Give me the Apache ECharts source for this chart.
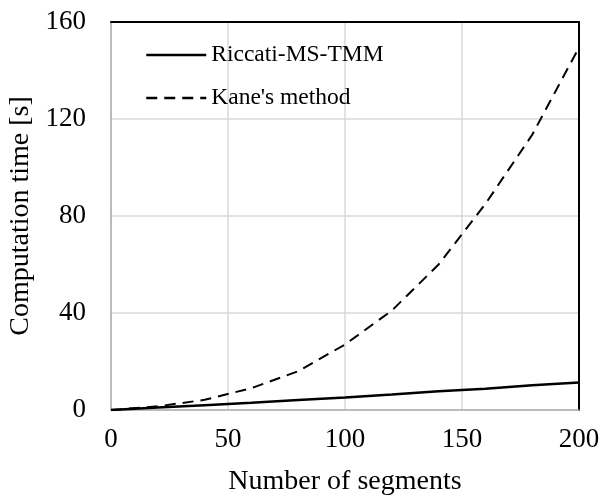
<!DOCTYPE html>
<html><head><meta charset="utf-8">
<script src="https://cdn.jsdelivr.net/npm/echarts@6/dist/echarts.min.js"></script>
<style>html,body{margin:0;padding:0;background:#fff}#c{width:602px;height:495px}</style>
</head><body><div id="c"></div>
<script>
const segments = [0, 20, 40, 60, 80, 100, 120, 140, 160, 180, 200];
const riccati = [0, 1.0, 2.0, 3.0, 4.1, 5.2, 6.4, 7.7, 8.8, 10.2, 11.3];
const kane = [0, 1.5, 4.2, 9.0, 16.0, 27.0, 41.0, 60.0, 85.0, 113.5, 149.5];
const xTicks = [0, 50, 100, 150, 200];
const yTicks = [0, 40, 80, 120, 160];
const font = '"Liberation Serif", "Times New Roman", serif';
const chart = echarts.init(document.getElementById('c'));
const frameAxis = { axisLine: { show: true, onZero: false, lineStyle: { color: '#000', width: 2 } }, axisTick: { show: false }, axisLabel: { show: false }, splitLine: { show: false } };
chart.setOption({
  animation: false,
  grid: { left: 111, right: 23, top: 22, bottom: 85, show: false, containLabel: false, outerBoundsMode: 'none' },
  legend: {
    show: true, orient: 'vertical', left: 140, top: 38, itemWidth: 60, itemHeight: 20, itemGap: 19,
    textStyle: { fontFamily: font, fontSize: 23.5, color: '#000' },
    itemStyle: { opacity: 0 },
    lineStyle: { width: 2.5 },
    data: ['Riccati-MS-TMM', "Kane's method"]
  },
  xAxis: [{
    type: 'value', min: 0, max: 200, interval: 50,
    name: 'Number of segments', nameLocation: 'middle', nameGap: 58,
    nameTextStyle: { fontFamily: font, fontSize: 28, color: '#000' },
    axisLine: { show: true, onZero: false, lineStyle: { color: '#a6a6a6', width: 1.5 } },
    axisTick: { show: false },
    axisLabel: { fontFamily: font, fontSize: 27, color: '#000', margin: 16 },
    splitLine: { show: true, showMinLine: false, showMaxLine: false, lineStyle: { color: '#d9d9d9', width: 1.5 } }
  }, Object.assign({ type: 'value', min: 0, max: 200, interval: 50, position: 'top' }, frameAxis)],
  yAxis: [{
    type: 'value', min: 0, max: 160, interval: 40,
    name: 'Computation time [s]', nameLocation: 'middle', nameGap: 74,
    nameTextStyle: { fontFamily: font, fontSize: 28, color: '#000' },
    axisLine: { show: true, onZero: false, lineStyle: { color: '#a6a6a6', width: 1.5 } },
    axisTick: { show: false },
    axisLabel: { fontFamily: font, fontSize: 27, color: '#000', margin: 25 },
    splitLine: { show: true, showMinLine: false, showMaxLine: false, lineStyle: { color: '#d9d9d9', width: 1.5 } }
  }, Object.assign({ type: 'value', min: 0, max: 160, interval: 40, position: 'right' }, frameAxis)],
  series: [
    { name: 'Riccati-MS-TMM', type: 'line', showSymbol: false, symbol: 'none',
      data: segments.map((s, i) => [s, riccati[i]]),
      lineStyle: { color: '#000', width: 2.5, type: 'solid' }, itemStyle: { color: '#000' } },
    { name: "Kane's method", type: 'line', showSymbol: false, symbol: 'none',
      data: segments.map((s, i) => [s, kane[i]]),
      lineStyle: { color: '#000', width: 2, type: [11, 7] }, itemStyle: { color: '#000' } }
  ]
});
</script></body></html>
